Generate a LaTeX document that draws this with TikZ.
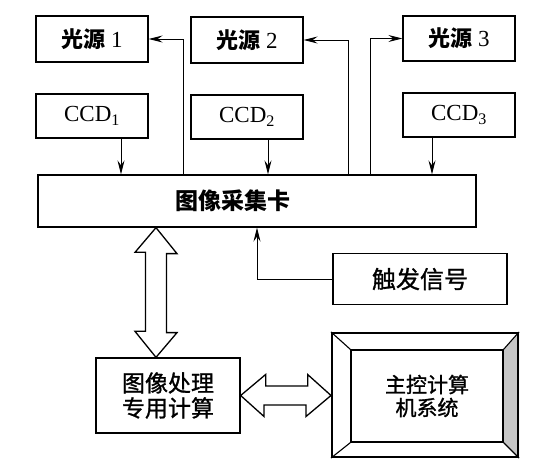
\documentclass[tikz,border=0pt]{standalone}
\usepackage{fontspec}
\setmainfont{Liberation Serif}
\newfontfamily\cjk{Noto Sans CJK SC}
\newfontfamily\cjkm[FakeBold=1.2]{Noto Sans CJK SC}
\usetikzlibrary{arrows.meta,backgrounds}

\begin{document}
\begin{tikzpicture}[x=1pt,y=-1pt,
    box/.style={draw,line width=1.3pt,inner sep=0pt,font=\fontsize{23}{26}\selectfont},
    arr/.style={line width=0.9pt,-{Stealth[length=14pt,width=7pt,inset=5pt]}},
    fat/.style={draw,line width=1.3pt,fill=white,line join=miter}]
  \useasboundingbox (0,0) rectangle (550,470);
  % light sources and cameras
  \node[box,minimum width=112pt,minimum height=46pt] (src1) at (92,39)    {{\fontsize{22}{26}\selectfont\cjk\bfseries 光源} 1};
  \node[box,minimum width=112pt,minimum height=46pt] (src2) at (247,40)   {{\fontsize{22}{26}\selectfont\cjk\bfseries 光源} 2};
  \node[box,minimum width=112pt,minimum height=45pt] (src3) at (459,38.5) {{\fontsize{22}{26}\selectfont\cjk\bfseries 光源} 3};
  \node[box,minimum width=112pt,minimum height=44pt] (ccd1) at (92,116)   {CCD\textsubscript{1}};
  \node[box,minimum width=112pt,minimum height=44pt] (ccd2) at (247,117)  {CCD\textsubscript{2}};
  \node[box,minimum width=112pt,minimum height=44pt] (ccd3) at (459,115)  {CCD\textsubscript{3}};
  % frame grabber
  \node[box,minimum width=438pt,minimum height=52pt,
        label={[xshift=-24pt,font=\fontsize{23}{26}\selectfont\cjk\bfseries]center:图像采集卡}] (card) at (257,201) {};
  \node[box,minimum width=174pt,minimum height=51pt,font=\fontsize{24}{26}\selectfont\cjkm] (trig) at (420,279) {触发信号};
  \node[box,minimum width=144pt,minimum height=75pt,align=center,
        font=\fontsize{23}{25}\selectfont\cjkm] (proc) at (168,395.5) {图像处理\\专用计算};
  % host computer
  \node[draw,line width=2pt,minimum width=186pt,minimum height=124pt] (host) at (425,395) {};
  \node[draw,line width=1.3pt,minimum width=152pt,minimum height=92pt,align=center,
        font=\fontsize{21}{23}\selectfont\cjkm] (inner) at (427,396) {主控计算\\机系统};
  \begin{scope}[on background layer]
    \fill[gray!45] (inner.north east) -- (host.north east) -- (host.south east) -- (inner.south east) -- cycle;
  \end{scope}
  \draw[line width=1.1pt] (host.north west) -- (inner.north west)
                          (host.north east) -- (inner.north east)
                          (host.south west) -- (inner.south west)
                          (host.south east) -- (inner.south east);
  % signal lines
  \draw[arr] ([xshift=29pt]ccd1.south) -- ([xshift=29pt]ccd1.south |- card.north);
  \draw[arr] ([xshift=21pt]ccd2.south) -- ([xshift=21pt]ccd2.south |- card.north);
  \draw[arr] ([xshift=-27pt]ccd3.south) -- ([xshift=-27pt]ccd3.south |- card.north);
  \draw[arr] ([xshift=-74pt]card.north) |- (src1.east);
  \draw[arr] ([xshift=91pt]card.north) |- (src2.east);
  \draw[arr] ([xshift=113pt]card.north) |- (src3.west);
  \draw[arr] (trig.west) -| (card.south);
  % data buses
  \coordinate (vt) at ([xshift=-12pt]proc.north |- card.south);
  \coordinate (vb) at ([xshift=-12pt]proc.north);
  \draw[fat] (vt) -- ++(21,26) -- ++(-10.5,0) -- ++(0,79) -- ++(10.5,0) -- (vb)
             -- ++(-21,-26) -- ++(10.5,0) -- ++(0,-79) -- ++(-10.5,0) -- cycle;
  \coordinate (hl) at (proc.east);
  \coordinate (hr) at (proc.east -| host.west);
  \draw[fat] (hl) -- ++(25,-21) -- ++(0,11.5) -- ++(42,0) -- ++(0,-11.5) -- (hr)
             -- ++(-25,21) -- ++(0,-11.5) -- ++(-42,0) -- ++(0,11.5) -- cycle;
\end{tikzpicture}
\end{document}
